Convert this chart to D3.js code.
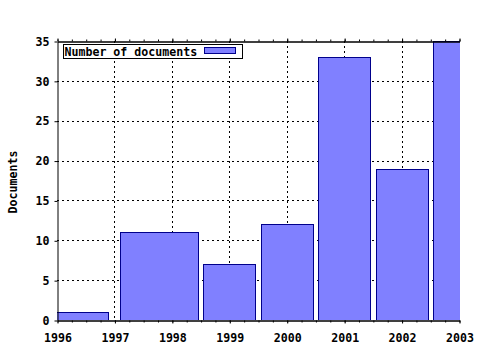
<!DOCTYPE html>
<html>
<head>
<meta charset="utf-8">
<script src="https://cdn.jsdelivr.net/npm/d3@7"></script>
<style>
  body { margin: 0; background: #fff; }
  text { font-family: "DejaVu Sans Mono", monospace; font-weight: bold; font-size: 11.6px; }
</style>
</head>
<body>
<svg id="drawing_region"></svg>
<script>
// documents per year; bars span [barStart, barEnd] in years
const years = [1996, 1998, 1999, 2000, 2001, 2002, 2003];
const docs = [1, 11, 7, 12, 33, 19, 35];
const barStart = [1995.1, 1997.1, 1998.55, 1999.55, 2000.55, 2001.55, 2002.55];
const barEnd = [1996.9, 1998.45, 1999.45, 2000.45, 2001.45, 2002.45, 2003.45];
const xTicks = [1996, 1997, 1998, 1999, 2000, 2001, 2002, 2003];
const yTicks = [0, 5, 10, 15, 20, 25, 30, 35];
const seriesName = "Number of documents";
const yTitle = "Documents";

const data = years.map((y, i) => ({ year: y, value: docs[i], x0: barStart[i], x1: barEnd[i] }));

const width = 480, height = 350;
const margin = { top: 41, right: 21, bottom: 30, left: 57 };
const inner_width = width - margin.left - margin.right;
const inner_height = height - margin.top - margin.bottom;

const svg = d3.select('#drawing_region')
    .attr('width', width)
    .attr('height', height);

svg.append('defs').append('clipPath').attr('id', 'plot_clip')
    .append('rect').attr('width', inner_width + 1).attr('height', inner_height);

const chart = svg.append('g')
    .attr('transform', `translate(${margin.left}, ${margin.top})`);

const xscale = d3.scaleLinear().domain([1996, 2003]).range([0, inner_width]);
const yscale = d3.scaleLinear().domain([0, 35]).range([inner_height, 0]);

// grid
chart.selectAll('.vgrid')
    .data(xTicks.slice(1, -1))
    .enter().append('line')
    .attr('x1', d => Math.round(xscale(d)) + 0.5)
    .attr('x2', d => Math.round(xscale(d)) + 0.5)
    .attr('y1', 0).attr('y2', inner_height)
    .attr('stroke', '#000').attr('stroke-dasharray', '2,3');

chart.selectAll('.hgrid')
    .data(yTicks.slice(1, -1))
    .enter().append('line')
    .attr('x1', 0).attr('x2', inner_width)
    .attr('y1', d => Math.round(yscale(d)) + 0.5)
    .attr('y2', d => Math.round(yscale(d)) + 0.5)
    .attr('stroke', '#000').attr('stroke-dasharray', '2,3');

// bars
chart.append('g').attr('clip-path', 'url(#plot_clip)')
    .selectAll('rect')
    .data(data)
    .enter().append('rect')
    .attr('x', d => Math.round(xscale(d.x0)) + 0.5)
    .attr('y', d => Math.round(yscale(d.value)) + 0.5)
    .attr('width', d => Math.round(xscale(d.x1) - xscale(d.x0)))
    .attr('height', d => Math.round(yscale(0) - yscale(d.value)))
    .attr('fill', '#8080ff')
    .attr('stroke', '#00008b');

// axes
const minorTicks = d3.range(1996, 2003.01, 0.25);

const xaxis = d3.axisBottom(xscale).tickValues(xTicks).tickFormat(d3.format('d'))
    .tickSize(3).tickSizeOuter(0).tickPadding(10);
const xminor = d3.axisBottom(xscale).tickValues(minorTicks).tickFormat('')
    .tickSize(2).tickSizeOuter(0);
const xtop = d3.axisTop(xscale).tickValues(xTicks).tickFormat('').tickSize(3).tickSizeOuter(0);
const xtopminor = d3.axisTop(xscale).tickValues(minorTicks).tickFormat('').tickSize(2).tickSizeOuter(0);
const yaxis = d3.axisLeft(yscale).tickValues(yTicks).tickSize(3).tickSizeOuter(0).tickPadding(5);

function style_axis(g) {
    g.attr('font-family', null).attr('font-size', null);
    g.selectAll('path, line').attr('stroke', '#000');
    g.selectAll('text').attr('fill', '#000');
}

chart.append('g').attr('transform', `translate(0.5, ${inner_height + 0.5})`).call(xminor).call(style_axis);
chart.append('g').attr('transform', `translate(0.5, ${inner_height + 0.5})`).call(xaxis).call(style_axis);
chart.append('g').attr('transform', 'translate(0.5, 0.5)').call(xtopminor).call(style_axis);
chart.append('g').attr('transform', 'translate(0.5, 0.5)').call(xtop).call(style_axis);
chart.append('g').attr('transform', 'translate(0.5, 0.5)').call(yaxis).call(style_axis);

// y title
svg.append('text')
    .attr('transform', 'translate(17, 182) rotate(-90)')
    .attr('text-anchor', 'middle')
    .text(yTitle);

// legend
const legend = svg.append('g').attr('transform', 'translate(63.5, 44.5)');
legend.append('rect')
    .attr('width', 179).attr('height', 14)
    .attr('fill', '#fff').attr('stroke', '#000');
legend.append('text')
    .attr('x', 1).attr('y', 11)
    .text(seriesName);
legend.append('rect')
    .attr('x', 141).attr('y', 3)
    .attr('width', 31).attr('height', 6)
    .attr('fill', '#8080ff').attr('stroke', '#00008b');
</script>
</body>
</html>
